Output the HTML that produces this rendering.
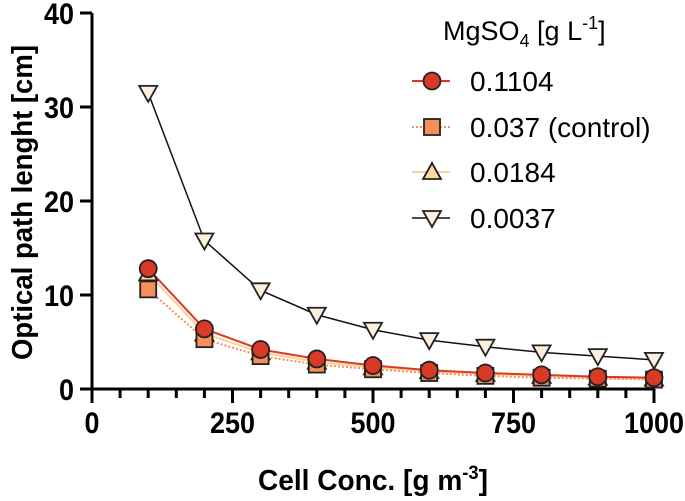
<!DOCTYPE html>
<html><head><meta charset="utf-8"><style>
body{margin:0;background:#fff;}
svg{display:block;font-family:"Liberation Sans",Arial,sans-serif;}
</style></head><body>
<svg id="c" width="685" height="501">
<g id="axes"></g>
<g id="series"></g>
<g id="legend"></g>
</svg>
<script>
const xCats=[100,200,300,400,500,600,700,800,900,1000];
const s1104=[12.8,6.4,4.2,3.2,2.5,2.0,1.7,1.5,1.3,1.2];
const s037=[10.6,5.3,3.5,2.6,2.1,1.7,1.4,1.2,1.1,1.0];
const s0184=[12.3,5.9,3.9,2.9,2.3,1.9,1.6,1.4,1.2,1.1];
const s0037=[31.5,15.8,10.5,7.9,6.3,5.2,4.5,3.9,3.5,3.1];
const xTicks=[0,250,500,750,1000];
const yTicks=[0,10,20,30,40];
const seriesNames=["0.1104","0.037 (control)","0.0184","0.0037"];

const NS="http://www.w3.org/2000/svg";
const X=v=>92+v*0.562;
const Y=v=>389-v*9.4;
function mk(tag,attrs,parent,text){const e=document.createElementNS(NS,tag);for(const k in attrs)e.setAttribute(k,attrs[k]);if(text!==undefined)e.textContent=text;parent.appendChild(e);return e;}
const ax=document.getElementById('axes');
let e=mk('line',{x1:X(0),y1:Y(0),x2:X(1000)+1,y2:Y(0),stroke:'#000','stroke-width':3},ax);

e=mk('line',{x1:X(0),y1:Y(0)+1,x2:X(0),y2:Y(40),stroke:'#000','stroke-width':3},ax);

for(let v=50;v<=1000;v+=50){const maj=v%250===0;mk('line',{x1:X(v),y1:Y(0),x2:X(v),y2:Y(0)+(maj?14:9),stroke:'#000','stroke-width':3},ax);}
mk('line',{x1:X(0),y1:Y(0),x2:X(0),y2:Y(0)+14,stroke:'#000','stroke-width':3},ax);
xTicks.forEach(v=>{const s=String(v);e=mk('text',{x:X(v),y:Y(0)+44,'text-anchor':'middle','font-size':30,'font-weight':'bold',textLength:s.length*15,lengthAdjust:'spacingAndGlyphs'},ax,s);
});
yTicks.forEach(v=>{const s=String(v);mk('line',{x1:X(0)-12,y1:Y(v),x2:X(0),y2:Y(v),stroke:'#000','stroke-width':3},ax);
e=mk('text',{x:X(0)-18-s.length*15,y:Y(v)+11,'font-size':30,'font-weight':'bold',textLength:s.length*15,lengthAdjust:'spacingAndGlyphs'},ax,s);
});
e=mk('text',{x:258,y:490,'font-size':29,'font-weight':'bold',textLength:230,lengthAdjust:'spacingAndGlyphs'},ax);
e.innerHTML='Cell Conc. [g m<tspan dy="-11" font-size="19">-3</tspan><tspan dy="11">]</tspan>';

e=mk('text',{x:0,y:0,'font-size':29,'font-weight':'bold',textLength:315,lengthAdjust:'spacingAndGlyphs',transform:'translate(32,360) rotate(-90)'},ax,'Optical path lenght [cm]');


const sg=document.getElementById('series');
const styles=[
 {data:s1104,line:'#d93a26',dash:'',m:'circle',fill:'#d93a26'},
 {data:s037,line:'#f5905a',dash:'2,2',m:'square',fill:'#f5905a'},
 {data:s0184,line:'#fcd29a',dash:'',m:'tri',fill:'#fcd9a0'},
 {data:s0037,line:'#111',dash:'',m:'itri',fill:'#fdf0dc'}];
function marker(type,x,y,fill,p){let el;
 if(type==='circle')el=mk('circle',{cx:x,cy:y,r:8.5,fill:fill,stroke:'#222','stroke-width':1.8},p);
 else if(type==='square')el=mk('rect',{x:x-8,y:y-8,width:16,height:16,fill:fill,stroke:'#222','stroke-width':1.8},p);
 else if(type==='tri')el=mk('polygon',{points:`${x},${y-9} ${x-9},${y+7} ${x+9},${y+7}`,fill:fill,stroke:'#222','stroke-width':1.8},p);
 else el=mk('polygon',{points:`${x},${y+9} ${x-9},${y-7} ${x+9},${y-7}`,fill:fill,stroke:'#222','stroke-width':1.8},p);
 return el;}
const order=[3,2,1,0];
order.forEach(i=>{const s=styles[i];
 const pts=s.data.map((v,j)=>X(xCats[j])+','+Y(v)).join(' ');
 e=mk('polyline',{points:pts,fill:'none',stroke:s.line,'stroke-width':s.line==='#111'?1.5:2,'stroke-dasharray':s.dash},sg);
 });
order.forEach(i=>{const s=styles[i];
 s.data.forEach((v,j)=>{e=marker(s.m,X(xCats[j]),Y(v),s.fill,sg);
 });});

const lg=document.getElementById('legend');
e=mk('text',{x:443,y:40,'font-size':27},lg);
e.innerHTML='MgSO<tspan dy="7" font-size="18">4</tspan><tspan dy="-7"> [g L</tspan><tspan dy="-11" font-size="18">-1</tspan><tspan dy="11">]</tspan>';

const ly=[81,127,172,218];
styles.forEach((s,i)=>{
 mk('line',{x1:412,y1:ly[i],x2:450,y2:ly[i],stroke:s.line,'stroke-width':s.line==='#111'?1.5:2,'stroke-dasharray':s.dash},lg);
 marker(s.m,432,ly[i],s.fill,lg);
 e=mk('text',{x:470,y:ly[i]+10,'font-size':28},lg,seriesNames[i]);
 });
</script>
</body></html>
